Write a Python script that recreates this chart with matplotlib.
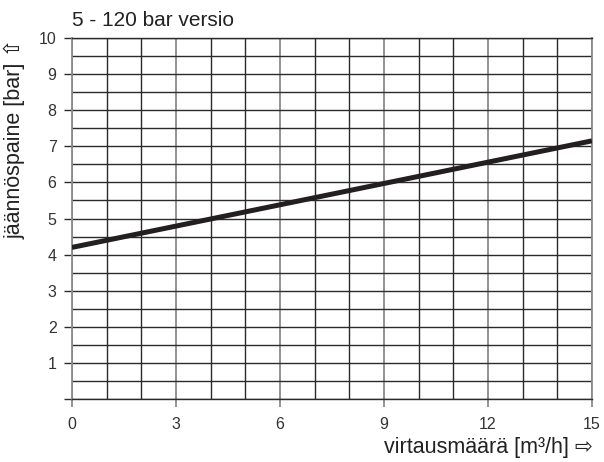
import numpy as np
import matplotlib.pyplot as plt

# residual pressure vs flow, 5 - 120 bar version
flow = [0, 15]
pressure = [4.2, 7.15]

x_major = [0, 3, 6, 9, 12, 15]
y_major = list(range(0, 11))
y_labels = [""] + [str(v) for v in range(1, 11)]

plt.rcParams["font.family"] = ["Liberation Sans", "DejaVu Sans"]

W, H = 604, 462
fig = plt.figure(figsize=(W / 100, H / 100), dpi=100)
ax = fig.add_axes([0.119, 0.136, 0.861, 0.782])

dark = "#2b2b2b"
gray = "#8a8a8a"
txt = "#222222"

ax.set_xlim(0, 15)
ax.set_ylim(0, 10)

# grid lines
ax.set_xticks(x_major)
ax.set_xticks(np.arange(0, 16, 1), minor=True)
ax.set_yticks(y_major)
ax.set_yticklabels(y_labels)
ax.set_yticks(np.arange(0, 10.5, 0.5), minor=True)

ax.grid(axis="y", which="both", color=dark, lw=1.0)
ax.grid(axis="x", which="minor", color=dark, lw=1.0)
ax.grid(axis="x", which="major", color=gray, lw=1.3)
ax.set_axisbelow(True)

ax.tick_params(axis="x", which="major", length=6, width=1.3, color=gray,
               labelsize=11.5, labelcolor="#333333", pad=7)
ax.tick_params(axis="x", which="minor", length=0)
ax.tick_params(axis="y", which="major", length=6, width=1.0, color=dark,
               labelsize=11.5, labelcolor="#333333", pad=5)
ax.tick_params(axis="y", which="minor", length=0)

for side in ["left", "right"]:
    ax.spines[side].set_color(gray)
    ax.spines[side].set_linewidth(1.3)
for side in ["top", "bottom"]:
    ax.spines[side].set_color(dark)
    ax.spines[side].set_linewidth(1.0)

ax.plot(flow, pressure, color="#231f20", lw=3.6, solid_capstyle="butt", zorder=3)

# labels placed in figure pixels
fig.text(72 / W, 1 - 21 / H, "5 - 120 bar versio", fontsize=15, color=txt,
         ha="left", va="center")
fig.text(15 / W, 1 - 39 / H, "jäännöspaine [bar] ⇧", fontsize=15.5, color=txt,
         rotation=90, ha="center", va="top")
fig.text(593 / W, 1 - 448 / H, "virtausmäärä [m³/h] ⇨", fontsize=15.5, color=txt,
         ha="right", va="center")

fig.savefig("out.png", dpi=100)
